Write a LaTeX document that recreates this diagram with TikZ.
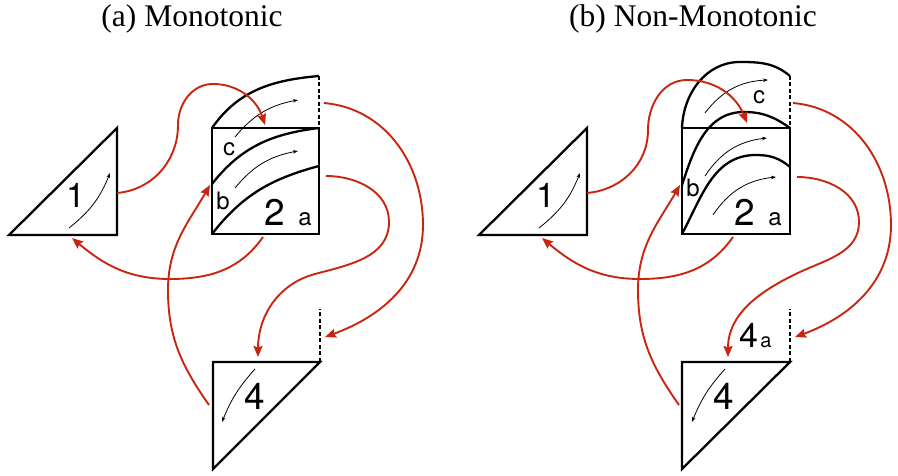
\documentclass[tikz,border=0pt]{standalone}
\usepackage{fontspec}
\setmainfont{Liberation Serif}
\newfontfamily\labfont{TeX Gyre Heros}
\usetikzlibrary{arrows.meta}
\definecolor{redc}{RGB}{200,38,14}
\begin{document}
\begin{tikzpicture}[x=1pt,y=1pt,
  piece/.style={line width=2.3pt, line join=miter},
  cutline/.style={line width=2.3pt, dash pattern=on 4pt off 2.5pt},
  flow/.style={redc, line width=1.9pt, -{Stealth[length=11pt,width=9pt,inset=1.5pt]}},
  thinarrow/.style={line width=0.8pt, -{Stealth[length=5pt,width=3.5pt]}},
  bignum/.style={font=\labfont\fontsize{37}{37}\selectfont, inner sep=0pt},
  onenum/.style={font=\labfont\fontsize{34}{34}\selectfont, inner sep=0pt},
  letter/.style={font=\labfont\fontsize{24}{24}\selectfont, inner sep=0pt},
  subnum/.style={font=\labfont\fontsize{34}{34}\selectfont, inner sep=0pt},
  subletter/.style={font=\labfont\fontsize{20}{20}\selectfont, inner sep=0pt},
  titletext/.style={font=\fontsize{31.5}{31.5}\selectfont, inner sep=0pt, anchor=base}]
\useasboundingbox (0,0) rectangle (898,476);

% titles
\node[titletext] (ta) at (192,449) {(a) Monotonic};
\node[titletext] (tb) at (693,449) {(b) Non-Monotonic};

%================ panel (a) ================
% triangle 1
\draw[piece] (9,241) -- (117,348) -- (117,241) -- cycle;
\draw[thinarrow] (69,248) to[bend right=15] (110,303);
\node[onenum] (a1) at (76,281) {1};
% square 2 with cap
\draw[piece] (212,242) rectangle (319,348);
\draw[piece] (212,348) to[out=55,in=185] (319,400);
\draw[cutline] (319,400) -- (319,348);
\draw[piece] (212,292) to[out=52,in=187] (319,348);
\draw[piece] (212,242) to[out=52,in=195] (319,310);
\draw[thinarrow] (235,339) to[bend left=20] (298,376);
\draw[thinarrow] (235,288) to[bend left=20] (298,325);
\node[letter] (ac) at (229,327) {c};
\node[letter] (ab) at (223,275) {b};
\node[bignum] (a2) at (275,264) {2};
\node[letter] (aa) at (305,257) {a};
% triangle 4
\draw[piece] (213,114) -- (320,114) -- (213,7) -- cycle;
\draw[cutline] (320,114) -- (320,167);
\draw[thinarrow] (255,107) to[bend right=10] (222,54);
\node[bignum] (a4) at (255,80) {4};

% connector end points (a)
\coordinate (a1r) at (117,283);
\coordinate (a1b) at (72,238);
\coordinate (a2top) at (265,351);
\coordinate (a2bot) at (263,239);
\coordinate (a2left) at (210,291);
\coordinate (a2right) at (326,300);
\coordinate (a2cap) at (324,373);
\coordinate (a4left) at (209,71);
\coordinate (a4top) at (258,119);
\coordinate (a4cut) at (325,139);

\draw[flow] (a1r) to[out=5,in=-90] (178,351) to[out=90,in=180] (213,392) to[out=0,in=108] (a2top);
\draw[flow] (a2bot) to[out=-125,in=0] (170,197) to[out=180,in=-40] (a1b);
\draw[flow] (a4left) to[out=125,in=-90] (168,186) to[out=90,in=-120] (a2left);
\draw[flow] (a2right) to[out=0,in=90] (389,254) to[out=-90,in=15] (315,202) to[out=195,in=90] (a4top);
\draw[flow] (a2cap) to[out=-5,in=90] (423,251) to[out=-90,in=20] (a4cut);

%================ panel (b) ================
% triangle 1
\draw[piece] (479,241) -- (587,348) -- (587,241) -- cycle;
\draw[thinarrow] (539,248) to[bend right=15] (580,303);
\node[onenum] (b1) at (546,281) {1};
% square 2 with arch cap
\draw[piece] (682,242) rectangle (790,348);
\draw[piece] (682,348) to[out=88,in=180] (740,414) to[out=0,in=140] (790,400);
\draw[cutline] (790,400) -- (790,348);
\draw[piece] (682,291) to[out=72,in=180] (744,364) to[out=0,in=145] (790,348);
\draw[piece] (682,242) to[out=62,in=180] (756,321) to[out=0,in=140] (790,309);
\draw[thinarrow] (705,363) to[bend left=25] (768,396);
\draw[thinarrow] (705,300) to[bend left=25] (767,338);
\draw[thinarrow] (713,261) to[bend left=25] (776,299);
\node[letter] (bc) at (759,379) {c};
\node[letter] (bb) at (693,288) {b};
\node[bignum] (b2) at (745,264) {2};
\node[letter] (ba) at (775,257) {a};
% triangle 4
\draw[piece] (682,114) -- (790,114) -- (682,7) -- cycle;
\draw[cutline] (790,114) -- (790,167);
\draw[thinarrow] (725,107) to[bend right=10] (692,54);
\node[bignum] (b4) at (724,80) {4};
\node[subnum] (b4a) at (749,141) {4};
\node[subletter] (b4as) at (766,134) {a};

% connector end points (b)
\coordinate (b1r) at (587,283);
\coordinate (b1b) at (542,238);
\coordinate (b2top) at (747,353);
\coordinate (b2bot) at (733,239);
\coordinate (b2left) at (680,291);
\coordinate (b2right) at (797,299);
\coordinate (b2cap) at (793,373);
\coordinate (b4left) at (679,71);
\coordinate (b4top) at (728,119);
\coordinate (b4cut) at (795,139);

\draw[flow] (b1r) to[out=5,in=-90] (648,346) to[out=90,in=180] (687,396) to[out=0,in=112] (b2top);
\draw[flow] (b2bot) to[out=-125,in=0] (640,197) to[out=180,in=-40] (b1b);
\draw[flow] (b4left) to[out=125,in=-90] (638,186) to[out=90,in=-120] (b2left);
\draw[flow] (b2right) to[out=0,in=90] (859,254) to[out=-90,in=25] (800,204) to[out=205,in=90] (b4top);
\draw[flow] (b2cap) to[out=-5,in=90] (891,251) to[out=-90,in=20] (b4cut);
\end{tikzpicture}
\end{document}
